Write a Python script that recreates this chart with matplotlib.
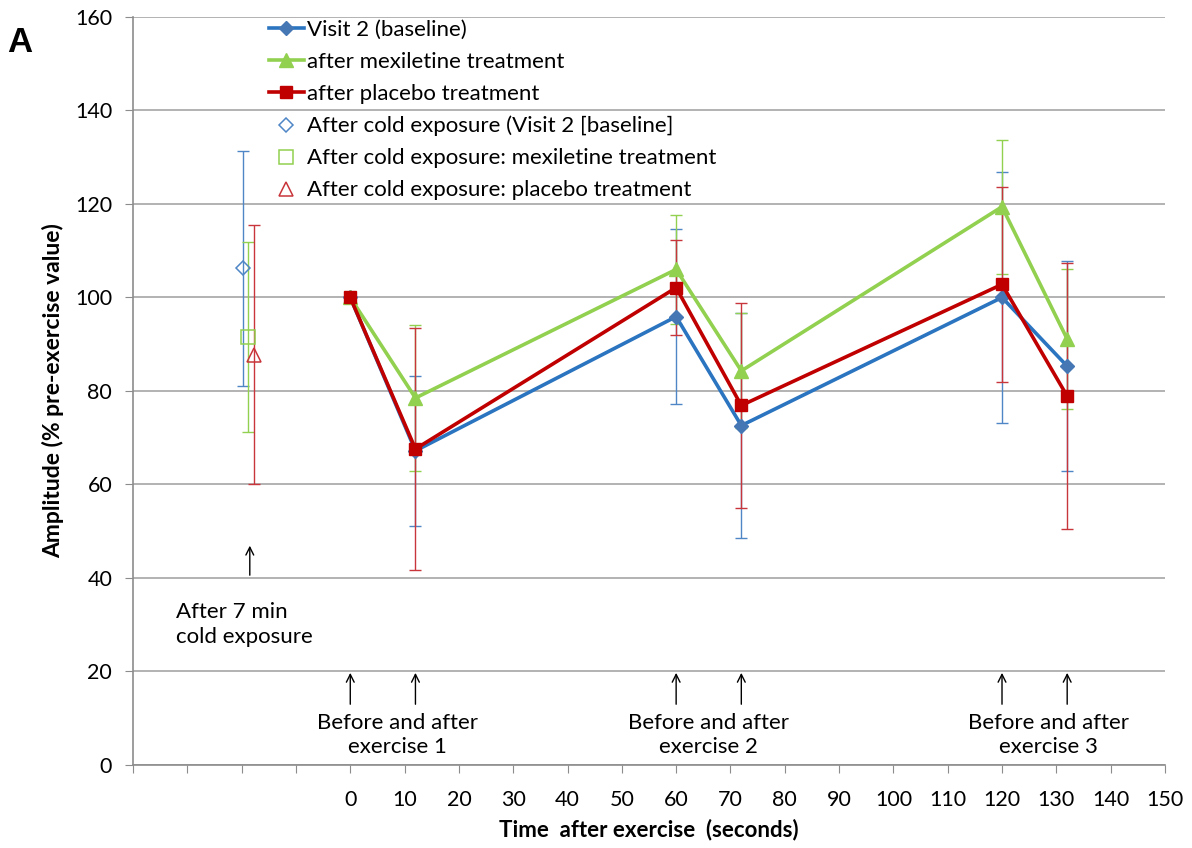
import numpy as np
import matplotlib.pyplot as plt
from matplotlib.lines import Line2D

plt.rcParams['font.family'] = ['Lato', 'DejaVu Sans']

# time points after exercise (s)
times = [0, 12, 60, 72, 120, 132]

# amplitude (% of pre-exercise value), mean and SD
visit2 = [100, 67.2, 95.9, 72.6, 100.0, 85.3]
visit2_sd = [0, 16.0, 18.7, 24.0, 26.9, 22.5]
mexiletine = [100, 78.5, 106.0, 84.3, 119.4, 91.1]
mexiletine_sd = [0, 15.6, 11.6, 12.3, 14.3, 15.0]
placebo = [100, 67.6, 102.1, 76.9, 102.8, 78.9]
placebo_sd = [0, 25.8, 10.1, 22.0, 20.8, 28.5]

# after 7 min cold exposure (plotted left of time 0)
cold_x = [-19.8, -18.8, -17.7]
cold_mean = [106.2, 91.5, 87.8]
cold_sd = [25.1, 20.3, 27.8]

xticks = list(range(-40, 151, 10))
xticklabels = [str(t) if t >= 0 else "" for t in xticks]
yticks = list(range(0, 161, 20))

c_blue, c_blue_mk, c_blue_err = "#2a74c0", "#4677b5", "#4f86c6"
c_green = "#92d050"
c_red, c_red_err = "#c00000", "#c8353a"

fig = plt.figure(figsize=(11.92, 8.48), dpi=100)
ax = fig.add_axes([0.1116, 0.0979, 0.8657, 0.8821])

# error bars
ax.errorbar(times, visit2, yerr=visit2_sd, fmt="none", ecolor=c_blue_err, elinewidth=1, capsize=4, zorder=2)
ax.errorbar(times, mexiletine, yerr=mexiletine_sd, fmt="none", ecolor=c_green, elinewidth=1, capsize=4, zorder=2)
ax.errorbar(times, placebo, yerr=placebo_sd, fmt="none", ecolor=c_red_err, elinewidth=1, capsize=4, zorder=2)

# main series
ax.plot(times, visit2, color=c_blue, lw=2.6, marker="D", ms=7, mfc=c_blue_mk, mec=c_blue_mk,
        label="Visit 2 (baseline)", zorder=3)
ax.plot(times, mexiletine, color=c_green, lw=2.6, marker="^", ms=10, mfc=c_green, mec=c_green,
        label="after mexiletine treatment", zorder=4)
ax.plot(times, placebo, color=c_red, lw=2.6, marker="s", ms=9, mfc=c_red, mec=c_red,
        label="after placebo treatment", zorder=5)

# cold exposure points
cold_colors = [c_blue_err, c_green, c_red_err]
cold_markers = ["D", "s", "^"]
cold_sizes = [7, 10, 10]
cold_labels = ["After cold exposure (Visit 2 [baseline]",
               "After cold exposure: mexiletine treatment",
               "After cold exposure: placebo treatment"]
for xv, m, s, col, mk, ms, lab in zip(cold_x, cold_mean, cold_sd, cold_colors, cold_markers, cold_sizes, cold_labels):
    ax.errorbar([xv], [m], yerr=[s], fmt="none", ecolor=col, elinewidth=1, capsize=4, zorder=2)
    ax.plot([xv], [m], linestyle="none", marker=mk, ms=ms, mfc="none", mec=col, mew=1.1,
            label=lab, zorder=3)

ax.set_xlim(-40, 150)
ax.set_ylim(0, 160)
ax.set_xticks(xticks)
ax.set_xticklabels(xticklabels)
ax.set_yticks(yticks)
ax.grid(axis="y", color="#a6a6a6", lw=1.2)
ax.set_axisbelow(True)
for side in ["top", "right"]:
    ax.spines[side].set_visible(False)
for side in ["left", "bottom"]:
    ax.spines[side].set_color("#8c8c8c")
    ax.spines[side].set_linewidth(1.2)
ax.tick_params(axis="x", length=6, pad=12, color="#8c8c8c", labelsize=15.5)
ax.tick_params(axis="y", length=6, pad=9, color="#8c8c8c", labelsize=15.5)

ax.set_xlabel("Time  after exercise  (seconds)", fontsize=16, fontweight="bold", labelpad=6)
ax.set_ylabel("Amplitude (% pre-exercise value)", fontsize=16.5, fontweight="bold", labelpad=8)

# annotations
arrow = dict(arrowstyle="->", color="black", lw=1, mutation_scale=14)
ax.annotate("", xy=(-18.5, 47.5), xytext=(-18.5, 40), arrowprops=arrow)
ax.text(-32, 30, "After 7 min\ncold exposure", fontsize=16, ha="left", va="center", linespacing=1.3)
for x0, x1 in [(0, 12), (60, 72), (120, 132)]:
    for xv in (x0, x1):
        ax.annotate("", xy=(xv, 20.3), xytext=(xv, 12.4), arrowprops=arrow)
ax.text(8.7, 6.4, "Before and after\nexercise 1", fontsize=16, ha="center", va="center", linespacing=1.3)
ax.text(66.0, 6.4, "Before and after\nexercise 2", fontsize=16, ha="center", va="center", linespacing=1.3)
ax.text(128.5, 6.4, "Before and after\nexercise 3", fontsize=16, ha="center", va="center", linespacing=1.3)

fig.text(0.006, 0.95, "A", fontsize=25, fontweight="bold", va="center",
         family=["Liberation Sans", "DejaVu Sans"])

ax.legend(loc="upper left", bbox_to_anchor=(0.123, 1.008), frameon=False, fontsize=16,
          handlelength=1.58, handletextpad=0.15, labelspacing=0.54, borderaxespad=0)

fig.savefig("out.png", dpi=100)
